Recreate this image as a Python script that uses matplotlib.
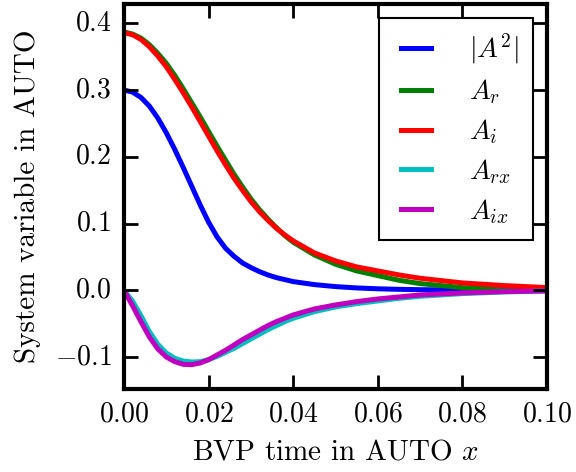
import numpy as np
import matplotlib
matplotlib.use('Agg')
import matplotlib.pyplot as plt

plt.style.use('classic')
matplotlib.rcParams.update({'font.family': 'serif',
                            'font.serif': ['cmr10'],
                            'mathtext.fontset': 'cm',
                            'axes.formatter.use_mathtext': True,
                            'font.size': 20})

# BVP time grid (AUTO x)
x = [0.0, 0.002, 0.004, 0.006, 0.008, 0.010, 0.012, 0.014, 0.016, 0.018,
     0.020, 0.022, 0.024, 0.026, 0.028, 0.030, 0.032, 0.034, 0.036, 0.038,
     0.040, 0.045, 0.050, 0.055, 0.060, 0.065, 0.070, 0.080, 0.090, 0.100]

# |A^2|
a_abs2 = [0.300, 0.297, 0.289, 0.276, 0.258, 0.236, 0.211, 0.184, 0.156, 0.128,
          0.102, 0.080, 0.063, 0.051, 0.041, 0.034, 0.028, 0.023, 0.019, 0.016,
          0.013, 0.0085, 0.0055, 0.0035, 0.0022, 0.0014, 0.0009, 0.0004, 0.0002, 0.0001]
# A_r
a_r = [0.387, 0.384, 0.378, 0.368, 0.355, 0.340, 0.322, 0.302, 0.281, 0.260,
       0.238, 0.216, 0.195, 0.174, 0.155, 0.137, 0.121, 0.107, 0.094, 0.082,
       0.072, 0.053, 0.039, 0.029, 0.022, 0.015, 0.010, 0.004, 0.0015, 0.0005]
# A_i
a_i = [0.386, 0.383, 0.376, 0.365, 0.351, 0.335, 0.316, 0.296, 0.275, 0.253,
       0.231, 0.209, 0.188, 0.168, 0.150, 0.133, 0.118, 0.105, 0.093, 0.083,
       0.074, 0.056, 0.044, 0.035, 0.029, 0.023, 0.018, 0.011, 0.007, 0.004]
# A_rx
a_rx = [0.0, -0.016, -0.038, -0.062, -0.081, -0.094, -0.102, -0.106, -0.1075, -0.107,
        -0.104, -0.099, -0.093, -0.087, -0.080, -0.073, -0.066, -0.059, -0.053, -0.047,
        -0.042, -0.032, -0.025, -0.020, -0.016, -0.012, -0.009, -0.005, -0.0025, -0.001]
# A_ix
a_ix = [0.0, -0.023, -0.047, -0.070, -0.088, -0.100, -0.107, -0.111, -0.1115, -0.109,
        -0.104, -0.097, -0.090, -0.082, -0.074, -0.067, -0.060, -0.053, -0.047, -0.042,
        -0.037, -0.028, -0.022, -0.017, -0.013, -0.010, -0.007, -0.004, -0.002, -0.001]

series = [(a_abs2, 'b', r'$|A^2|$'),
          (a_r, 'g', r'$A_r$'),
          (a_i, 'r', r'$A_i$'),
          (a_rx, 'c', r'$A_{rx}$'),
          (a_ix, 'm', r'$A_{ix}$')]

fig = plt.figure(figsize=(5.76, 4.72), dpi=100)
ax = fig.add_axes([0.2153, 0.1758, 0.7344, 0.8157])

for y, c, lab in series:
    ax.plot(x, y, color=c, linewidth=3.6, label=lab, solid_joinstyle='round')

ax.set_xlim(0, 0.1)
ax.set_ylim(-0.148, 0.429)
ax.set_xticks(np.arange(0, 0.101, 0.02))
ax.set_yticks([-0.1, 0.0, 0.1, 0.2, 0.3, 0.4])
ax.xaxis.set_major_formatter(matplotlib.ticker.FuncFormatter(
    lambda v, p: r'$\mathdefault{%.2f}$' % v))
ax.yaxis.set_major_formatter(matplotlib.ticker.FuncFormatter(
    lambda v, p: r'$\mathdefault{%.1f}$' % (v + 0.0)))
ax.minorticks_off()

for s in ax.spines.values():
    s.set_linewidth(3)
ax.tick_params(which='major', direction='in', length=10, width=2, pad=9,
               labelsize=20, top=True, right=True)

ax.set_xlabel(r'BVP time in AUTO $x$', fontsize=21, labelpad=8)
ax.set_ylabel('System variable in AUTO', fontsize=21, labelpad=10)

leg = ax.legend(loc='upper right', fontsize=20, handlelength=1.65,
                handletextpad=1.1, labelspacing=0.4, borderaxespad=0.5,
                borderpad=0.5)
leg.get_frame().set_linewidth(1.5)
for l in leg.get_lines():
    l.set_linewidth(3.6)

plt.savefig('out.png', dpi=100)
